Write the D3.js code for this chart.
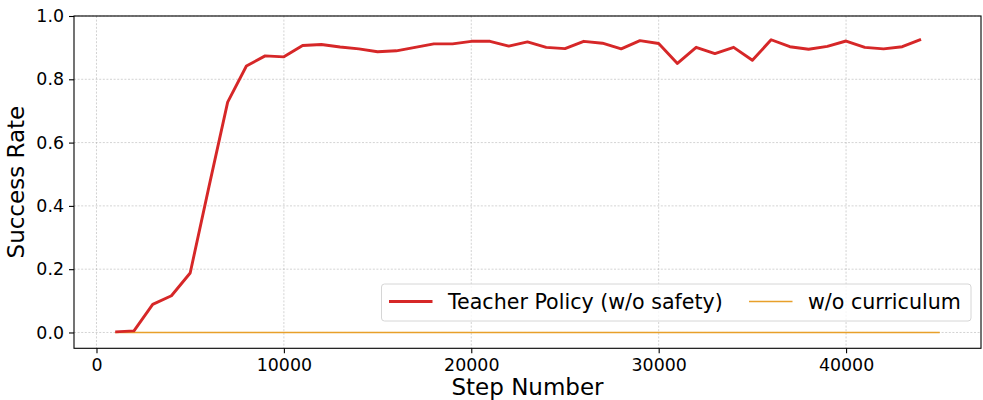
<!DOCTYPE html>
<html>
<head>
<meta charset="utf-8">
<script src="https://cdn.jsdelivr.net/npm/d3@7"></script>
<style>
  body { margin: 0; background: #fff; }
  text { font-family: "DejaVu Sans", sans-serif; fill: #000; }
</style>
</head>
<body>
<div id="chart"></div>
<script>
// data
const steps = [
  1000, 2000, 3000, 4000, 5000, 6000, 7000, 8000, 9000, 10000,
  11000, 12000, 13000, 14000, 15000, 16000, 17000, 18000, 19000, 20000,
  21000, 22000, 23000, 24000, 25000, 26000, 27000, 28000, 29000, 30000,
  31000, 32000, 33000, 34000, 35000, 36000, 37000, 38000, 39000, 40000,
  41000, 42000, 43000, 44000
];
const teacherRate = [
  0.002, 0.005, 0.089, 0.116, 0.188, 0.46, 0.728, 0.842, 0.874, 0.871,
  0.907, 0.910, 0.902, 0.896, 0.887, 0.890, 0.901, 0.912, 0.912, 0.920,
  0.920, 0.905, 0.918, 0.901, 0.897, 0.920, 0.914, 0.896, 0.922, 0.913,
  0.850, 0.901, 0.881, 0.901, 0.860, 0.925, 0.903, 0.895, 0.904, 0.921,
  0.901, 0.896, 0.903, 0.926
];
const curriculumSteps = [
  1000, 2000, 3000, 4000, 5000, 6000, 7000, 8000, 9000, 10000,
  11000, 12000, 13000, 14000, 15000, 16000, 17000, 18000, 19000, 20000,
  21000, 22000, 23000, 24000, 25000, 26000, 27000, 28000, 29000, 30000,
  31000, 32000, 33000, 34000, 35000, 36000, 37000, 38000, 39000, 40000,
  41000, 42000, 43000, 44000, 45000
];
const curriculumRate = curriculumSteps.map(() => 0);
const xTicks = [0, 10000, 20000, 30000, 40000];
const yTicks = [0.0, 0.2, 0.4, 0.6, 0.8, 1.0];
const seriesNames = ["Teacher Policy (w/o safety)", "w/o curriculum"];

//SVG DIMENSIONS
let width = 983;
let height = 400;
let plot = { left: 74, right: 981, top: 16, bottom: 348.3 };

let svg = d3
  .select("#chart")
  .append("svg")
  .attr("width", width)
  .attr("height", height);

let xScale = d3.scaleLinear().domain([-1200, 47200]).range([plot.left, plot.right]);
let yScale = d3.scaleLinear().domain([-0.05, 1.0]).range([plot.bottom, plot.top]);

// grid
let grid = svg.append("g").attr("stroke", "#b0b0b0").attr("stroke-opacity", 0.7)
  .attr("stroke-width", 0.8).attr("stroke-dasharray", "2,1.6");
grid.selectAll(".gx").data(xTicks).enter().append("line")
  .attr("x1", (d) => xScale(d)).attr("x2", (d) => xScale(d))
  .attr("y1", plot.top).attr("y2", plot.bottom);
grid.selectAll(".gy").data(yTicks).enter().append("line")
  .attr("y1", (d) => yScale(d)).attr("y2", (d) => yScale(d))
  .attr("x1", plot.left).attr("x2", plot.right);

// lines
let line = d3.line().x((d) => xScale(d[0])).y((d) => yScale(d[1]));

svg.append("path")
  .datum(curriculumSteps.map((s, i) => [s, curriculumRate[i]]))
  .attr("fill", "none").attr("stroke", "#e8a02a").attr("stroke-width", 1.6)
  .attr("d", line);

svg.append("path")
  .datum(steps.map((s, i) => [s, teacherRate[i]]))
  .attr("fill", "none").attr("stroke", "#d62728").attr("stroke-width", 2.9)
  .attr("stroke-linejoin", "round")
  .attr("d", line);

// axes
let xAxis = d3.axisBottom(xScale).tickValues(xTicks).tickSize(5).tickPadding(5).tickFormat(d3.format("d"));
let gx = svg.append("g").attr("transform", `translate(0,${plot.bottom})`).call(xAxis);
let yAxis = d3.axisLeft(yScale).tickValues(yTicks).tickSize(5).tickPadding(5).tickFormat(d3.format(".1f"));
let gy = svg.append("g").attr("transform", `translate(${plot.left},0)`).call(yAxis);
[gx, gy].forEach((g) => {
  g.select(".domain").remove();
  g.selectAll("line").attr("stroke", "#000").attr("stroke-width", 1.1);
  g.selectAll("text").style("font-size", "17.4px").style("font-family", "DejaVu Sans");
});

// spines
svg.append("rect")
  .attr("x", plot.left).attr("y", plot.top)
  .attr("width", plot.right - plot.left).attr("height", plot.bottom - plot.top)
  .attr("fill", "none").attr("stroke", "#000").attr("stroke-width", 1.1);

// axis labels
svg.append("text")
  .attr("x", (plot.left + plot.right) / 2).attr("y", 395)
  .attr("text-anchor", "middle").style("font-size", "23px")
  .text("Step Number");
svg.append("text")
  .attr("transform", `translate(24,${(plot.top + plot.bottom) / 2}) rotate(-90)`)
  .attr("text-anchor", "middle").style("font-size", "23px")
  .text("Success Rate");

// legend
let legend = svg.append("g");
legend.append("rect")
  .attr("x", 381.5).attr("y", 284).attr("width", 589.5).attr("height", 37)
  .attr("rx", 3).attr("fill", "#fff").attr("fill-opacity", 0.8)
  .attr("stroke", "#d6d6d6").attr("stroke-width", 1);
let legendItems = [
  { name: seriesNames[0], color: "#d62728", w: 2.9, x: 389 },
  { name: seriesNames[1], color: "#e8a02a", w: 1.6, x: 749 },
];
legendItems.forEach((d) => {
  legend.append("line")
    .attr("x1", d.x).attr("x2", d.x + 43.5).attr("y1", 301.5).attr("y2", 301.5)
    .attr("stroke", d.color).attr("stroke-width", d.w);
  legend.append("text")
    .attr("x", d.x + 59).attr("y", 308.5).style("font-size", "20.6px")
    .text(d.name);
});
</script>
</body>
</html>
